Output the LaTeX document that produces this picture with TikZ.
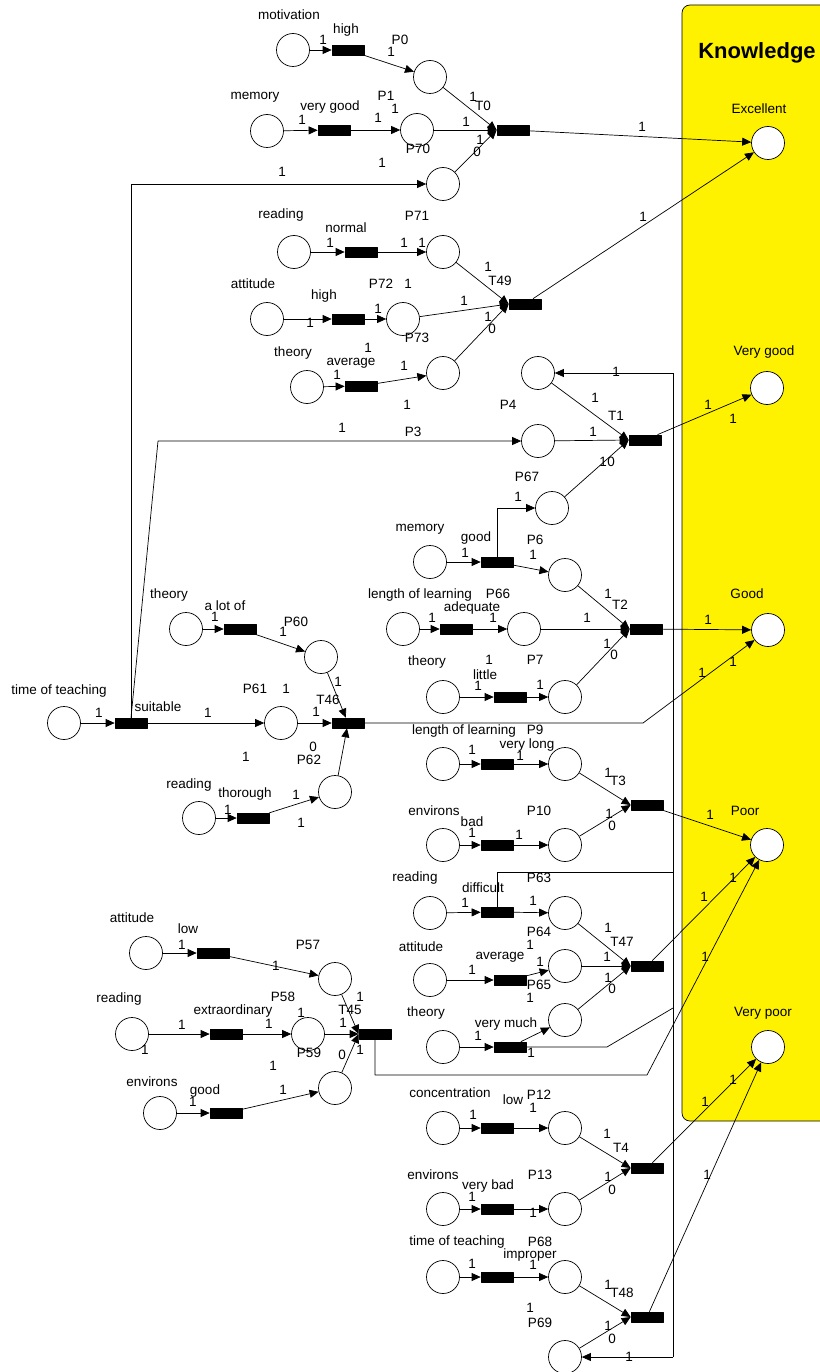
\documentclass[tikz,border=0pt]{standalone}
\usepackage{fontspec}
\setmainfont{Liberation Sans}
\usetikzlibrary{arrows.meta}

\tikzset{
  place/.style={draw, circle, fill=white, minimum size=33pt, inner sep=0pt},
  trans/.style={draw, fill=black, minimum width=32pt, minimum height=10pt, inner sep=0pt},
  arc/.style={-{Triangle[length=9pt,width=8pt]}},
  lbl/.style={inner sep=0pt, font=\fontsize{13.5}{14}\selectfont},
}

\begin{document}
\begin{tikzpicture}[x=1pt, y=-1pt, line width=0.7pt, line join=round]
    \useasboundingbox (0,0) rectangle (819,1372);

    % 知识框
    \filldraw[fill=yellow, rounded corners=8pt] (682,5) rectangle (840,1121);
    \node[font=\fontsize{22}{24}\selectfont\bfseries, inner sep=0pt] (know) at (757,53) {Knowledge};

    % 输入库所
    \node[place] (mot)  at (293,50) {};
    \node[place] (mem1) at (267,131) {};
    \node[place] (rea1) at (294,252) {};
    \node[place] (att1) at (267,319) {};
    \node[place] (the1) at (307,387) {};
    \node[place] (the2) at (186,629) {};
    \node[place] (tot1) at (64,723) {};
    \node[place] (rea2) at (199,818) {};
    \node[place] (att2) at (146,953) {};
    \node[place] (rea3) at (132,1034) {};
    \node[place] (env1) at (160,1113) {};
    \node[place] (mem2) at (430,562) {};
    \node[place] (len1) at (403,629) {};
    \node[place] (the3) at (443,697) {};
    \node[place] (len2) at (443,764) {};
    \node[place] (env2) at (443,845) {};
    \node[place] (rea4) at (430,913) {};
    \node[place] (att3) at (430,980) {};
    \node[place] (the4) at (443,1047) {};
    \node[place] (con)  at (443,1128) {};
    \node[place] (env3) at (443,1209) {};
    \node[place] (tot2) at (443,1277) {};

    % 中间库所
    \node[place] (P0)  at (430,77) {};
    \node[place] (P1)  at (417,130) {};
    \node[place] (Pa)  at (443,184) {};
    \node[place] (P71) at (443,252) {};
    \node[place] (P72) at (403,319) {};
    \node[place] (P73) at (443,373) {};
    \node[place] (P4)  at (538,373) {};
    \node[place] (P3)  at (538,441) {};
    \node[place] (P67) at (552,508) {};
    \node[place] (P6)  at (565,575) {};
    \node[place] (P66) at (524,629) {};
    \node[place] (P7)  at (565,697) {};
    \node[place] (P60) at (321,657) {};
    \node[place] (P61) at (281,723) {};
    \node[place] (P62) at (335,792) {};
    \node[place] (P9)  at (565,764) {};
    \node[place] (P10) at (565,845) {};
    \node[place] (P64) at (565,913) {};
    \node[place] (P65) at (565,966) {};
    \node[place] (Pb)  at (565,1020) {};
    \node[place] (P57) at (335,979) {};
    \node[place] (P58) at (308,1034) {};
    \node[place] (Pc)  at (335,1088) {};
    \node[place] (P12) at (565,1128) {};
    \node[place] (P13) at (565,1209) {};
    \node[place] (P68) at (565,1277) {};
    \node[place] (P69) at (565,1357) {};

    % 输出库所
    \node[place] (exc) at (768,143) {};
    \node[place] (vgd) at (767,388) {};
    \node[place] (gd)  at (768,630) {};
    \node[place] (pr)  at (767,845) {};
    \node[place] (vpr) at (768,1047) {};

    % 变迁
    \node[trans] (high1)  at (348,50) {};
    \node[trans] (vgood)  at (334,130) {};
    \node[trans] (T0)     at (513,130) {};
    \node[trans] (normal) at (361,252) {};
    \node[trans] (high2)  at (348,319) {};
    \node[trans] (avg1)   at (361,386) {};
    \node[trans] (T49)    at (525,304) {};
    \node[trans] (T1)     at (645,440) {};
    \node[trans] (good1)  at (497,562) {};
    \node[trans] (adeq)   at (456,629) {};
    \node[trans] (little) at (510,697) {};
    \node[trans] (T2)     at (646,629) {};
    \node[trans] (alot)   at (240,629) {};
    \node[trans] (suit)   at (131,723) {};
    \node[trans] (thor)   at (253,818) {};
    \node[trans] (T46)    at (348,723) {};
    \node[trans] (vlong)  at (497,764) {};
    \node[trans] (bad)    at (497,845) {};
    \node[trans] (T3)     at (647,805) {};
    \node[trans] (diff)   at (497,912) {};
    \node[trans] (avg2)   at (510,980) {};
    \node[trans] (vmuch)  at (510,1047) {};
    \node[trans] (T47)    at (647,966) {};
    \node[trans] (low1)   at (213,953) {};
    \node[trans] (extra)  at (226,1034) {};
    \node[trans] (good2)  at (226,1113) {};
    \node[trans] (T45)    at (375,1034) {};
    \node[trans] (low2)   at (497,1128) {};
    \node[trans] (vbad)   at (497,1209) {};
    \node[trans] (impr)   at (497,1277) {};
    \node[trans] (T4)     at (647,1168) {};
    \node[trans] (T48)    at (647,1317) {};

    % 折点
    \coordinate (v1) at (673,373);
    \coordinate (v2) at (673,1357);
    \coordinate (v3) at (673,872);
    \coordinate (v4) at (673,1008);
    \coordinate (m1) at (607,1047);
    \coordinate (g1) at (643,723);
    \coordinate (k1) at (647,1075);
    \coordinate (s1) at (158,441);

    % T0
    \draw[arc] (mot) -- (high1);
    \draw[arc] (high1) -- (P0);
    \draw[arc] (mem1) -- (vgood);
    \draw[arc] (vgood) -- (P1);
    \draw[arc] (P0) -- (T0.west);
    \draw[arc] (P1) -- (T0.west);
    \draw[arc] (Pa) -- (T0.west);
    \draw[arc] (T0) -- (exc);
    \draw[arc] (suit.north) |- (Pa);
    \draw[arc] (suit.north) -- (s1) -- (P3);

    % T49
    \draw[arc] (rea1) -- (normal);
    \draw[arc] (normal) -- (P71);
    \draw[arc] (att1) -- (high2);
    \draw[arc] (high2) -- (P72);
    \draw[arc] (the1) -- (avg1);
    \draw[arc] (avg1) -- (P73);
    \draw[arc] (P71) -- (T49.west);
    \draw[arc] (P72) -- (T49.west);
    \draw[arc] (P73) -- (T49.west);
    \draw[arc] (T49) -- (exc);

    % T1
    \draw (v1) -- (v2);
    \draw[arc] (v1) -- (P4);
    \draw[arc] (v2) -- (P69);
    \draw[arc] (P4) -- (T1.west);
    \draw[arc] (P3) -- (T1.west);
    \draw[arc] (P67) -- (T1.west);
    \draw[arc] (T1) -- (vgd);

    % T2
    \draw[arc] (mem2) -- (good1);
    \draw[arc] (good1.north) |- (P67);
    \draw[arc] (good1) -- (P6);
    \draw[arc] (len1) -- (adeq);
    \draw[arc] (adeq) -- (P66);
    \draw[arc] (the3) -- (little);
    \draw[arc] (little) -- (P7);
    \draw[arc] (P6) -- (T2.west);
    \draw[arc] (P66) -- (T2.west);
    \draw[arc] (P7) -- (T2.west);
    \draw[arc] (T2) -- (gd);

    % T46
    \draw[arc] (the2) -- (alot);
    \draw[arc] (alot) -- (P60);
    \draw[arc] (tot1) -- (suit);
    \draw[arc] (suit) -- (P61);
    \draw[arc] (rea2) -- (thor);
    \draw[arc] (thor) -- (P62);
    \draw[arc] (P60) -- (T46);
    \draw[arc] (P61) -- (T46);
    \draw[arc] (P62) -- (T46);
    \draw[arc] (T46) -- (g1) -- (gd);

    % T3
    \draw[arc] (len2) -- (vlong);
    \draw[arc] (vlong) -- (P9);
    \draw[arc] (env2) -- (bad);
    \draw[arc] (bad) -- (P10);
    \draw[arc] (P9) -- (T3.west);
    \draw[arc] (P10) -- (T3.west);
    \draw[arc] (T3) -- (pr);

    % T47
    \draw[arc] (rea4) -- (diff);
    \draw[arc] (diff) -- (P64);
    \draw (diff.north) |- (v3);
    \draw[arc] (att3) -- (avg2);
    \draw[arc] (avg2) -- (P65);
    \draw[arc] (the4) -- (vmuch);
    \draw[arc] (vmuch) -- (Pb);
    \draw (vmuch) -- (m1) -- (v4);
    \draw[arc] (P64) -- (T47.west);
    \draw[arc] (P65) -- (T47.west);
    \draw[arc] (Pb) -- (T47.west);
    \draw[arc] (T47) -- (pr);

    % T45
    \draw[arc] (att2) -- (low1);
    \draw[arc] (low1) -- (P57);
    \draw[arc] (rea3) -- (extra);
    \draw[arc] (extra) -- (P58);
    \draw[arc] (env1) -- (good2);
    \draw[arc] (good2) -- (Pc);
    \draw[arc] (P57) -- (T45.west);
    \draw[arc] (P58) -- (T45.west);
    \draw[arc] (Pc) -- (T45.west);
    \draw[arc] (T45) |- (k1) -- (pr);

    % T4, T48
    \draw[arc] (con) -- (low2);
    \draw[arc] (low2) -- (P12);
    \draw[arc] (env3) -- (vbad);
    \draw[arc] (vbad) -- (P13);
    \draw[arc] (tot2) -- (impr);
    \draw[arc] (impr) -- (P68);
    \draw[arc] (P12) -- (T4.west);
    \draw[arc] (P13) -- (T4.west);
    \draw[arc] (P68) -- (T48.west);
    \draw[arc] (P69) -- (T48.west);
    \draw[arc] (T4) -- (vpr);
    \draw[arc] (T48) -- (vpr);

    % 文字
    \foreach \x/\y/\t [count=\i] in {
      289/15/motivation, 346/30/high, 400/40/P0, 255/97/memory, 330/107/very good,
      386/96/P1, 418/149/P70, 483/106/T0, 281/215/reading, 346/228/normal,
      417/216/P71, 253/284/attitude, 324/296/high, 381/284/P72, 500/281/T49,
      417/338/P73, 293/353/theory, 351/363/average, 508/405/P4, 413/432/P3,
      616/416/T1, 527/477/P67, 420/529/memory, 476/538/good, 535/540/P6,
      420/595/length of learning, 498/594/P66, 472/608/adequate, 620/605/T2,
      427/662/theory, 485/675/little, 535/660/P7, 169/595/theory, 225/606/a lot of,
      296/622/P60, 59/691/time of teaching, 158/707/suitable, 255/689/P61,
      328/700/T46, 309/760/P62, 189/785/reading, 245/794/thorough,
      464/731/length of learning, 535/730/P9, 527/745/very long, 618/781/T3,
      434/811/environs, 472/822/bad, 539/811/P10, 415/878/reading,
      483/888/difficult, 539/878/P63, 539/932/P64, 622/942/T47, 421/947/attitude,
      500/957/average, 539/985/P65, 426/1013/theory, 506/1024/very much,
      132/918/attitude, 188/929/low, 308/945/P57, 119/999/reading,
      233/1011/extraordinary, 283/997/P58, 350/1010/T45, 309/1053/P59,
      152/1082/environs, 205/1091/good, 450/1093/concentration, 513/1100/low,
      539/1095/P12, 621/1148/T4, 433/1175/environs, 488/1186/very bad, 540/1175/P13,
      457/1242/time of teaching, 540/1242/P68, 530/1255/improper, 622/1293/T48,
      540/1323/P69, 759/109/Excellent, 764/352/Very good, 747/594/Good,
      745/811/Poor, 763/1013/Very poor}
      \node[lbl] (t\i) at (\x,\y) {\t};

    % 权值
    \foreach \x/\y [count=\i] in {
      323/40, 391/52, 302/120, 378/118, 395/109, 473/97, 466/122, 480/140, 642/127,
      282/172, 382/163, 330/243, 404/243, 422/243, 408/284, 378/309, 310/323,
      488/267, 464/301, 488/317, 643/217, 368/348, 337/375, 404/366, 407/405,
      342/428, 616/372, 595/398, 593/432, 708/405, 733/419, 603/462, 518/497,
      465/553, 533/555, 608/594, 432/618, 493/618, 587/618, 708/620, 607/644,
      489/660, 478/686, 540/685, 702/673, 733/662, 215/617, 283/632, 338/682,
      99/713, 208/713, 286/689, 316/712, 246/757, 228/810, 296/795, 301/823,
      472/750, 520/756, 608/773, 472/833, 519/835, 609/814, 710/815, 733/878,
      465/903, 533/901, 608/928, 530/945, 540/962, 607/957, 472/970, 530/998,
      608/978, 478/1036, 531/1053, 704/897, 705/957, 182/945, 276/966, 182/1025,
      269/1024, 301/1013, 360/997, 343/1023, 145/1050, 360/1050, 273/1066,
      283/1090, 193/1102, 533/1108, 473/1115, 607/1134, 608/1177, 472/1197,
      533/1213, 707/1175, 472/1264, 533/1265, 608/1285, 530/1308, 608/1326,
      629/1357, 705/1102, 733/1080}
      \node[lbl] (w\i) at (\x,\y) {1};
    \foreach \x/\y [count=\i] in {
      477/152, 492/329, 611/462, 614/655, 313/747, 612/826, 612/989, 342/1055,
      612/1190, 612/1339}
      \node[lbl] (z\i) at (\x,\y) {0};
\end{tikzpicture}
\end{document}
